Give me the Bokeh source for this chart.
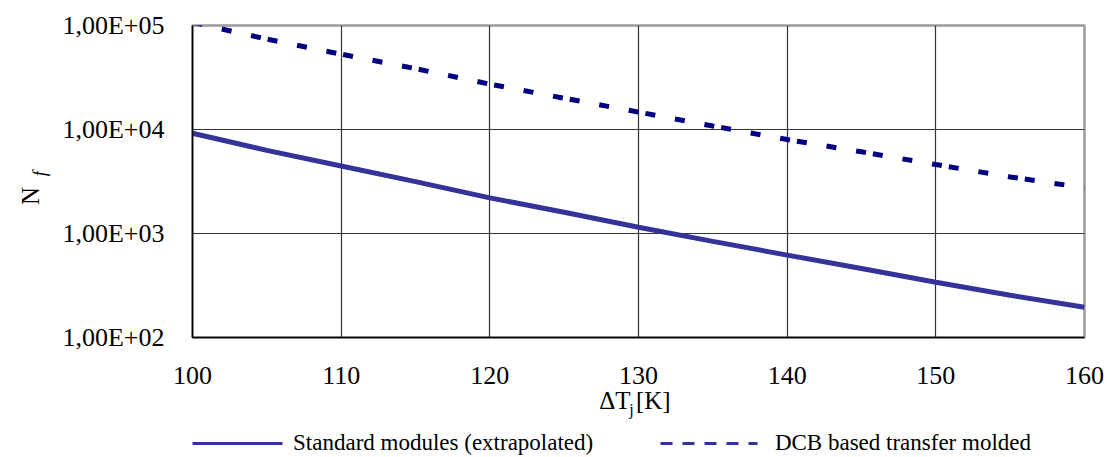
import math

from bokeh.embed import file_html
from bokeh.models import FixedTicker, LinearAxis, LinearScale, Range1d
from bokeh.plotting import figure
from bokeh.resources import INLINE

# Junction temperature swing [K] and cycles to failure
delta_tj = [100, 105, 110, 115, 120, 125, 130, 135, 140, 145, 150, 155, 160]
nf_standard = [9200, 6300, 4450, 3150, 2200, 1600, 1150, 840, 620, 460, 340, 255, 195]
nf_dcb = [107000, 74000, 53000, 38500, 27300, 20000, 14700, 10800, 8000, 6100, 4600, 3500, 2750]

series_names = ["Standard modules (extrapolated)", "DCB based transfer molded"]

x_ticks = [100, 110, 120, 130, 140, 150, 160]
y_ticks = [100, 1000, 10000, 100000]
y_tick_labels = ["1,00E+02", "1,00E+03", "1,00E+04", "1,00E+05"]

FONT = "Liberation Serif"
FRAME_W, FRAME_H = 904, 317
SOLID_COLOR = "#333399"
DASH_COLOR = "#000080"

p = figure(
    width=1107, height=457,
    x_range=(100, 160), y_range=(100, 100000),
    y_axis_type="log",
    output_backend="svg", toolbar_location=None,
    min_border_left=180, min_border_right=23,
    min_border_top=25, min_border_bottom=115,
)
p.background_fill_color = "white"
p.border_fill_color = "white"
p.outline_line_color = "#9a9a9a"
p.outline_line_width = 2.5

# pixel-unit ranges used to place titles and legend outside the frame
p.extra_x_ranges = {"px_x": Range1d(0, FRAME_W)}
p.extra_y_ranges = {"px_y": Range1d(0, FRAME_H)}
p.extra_x_scales = {"px_x": LinearScale()}
p.extra_y_scales = {"px_y": LinearScale()}

# main axes
p.xaxis.ticker = FixedTicker(ticks=x_ticks)
p.yaxis.ticker = FixedTicker(ticks=y_ticks)
p.yaxis.major_label_overrides = dict(zip(y_ticks, y_tick_labels))
for ax in (p.xaxis[0], p.yaxis[0]):
    ax.axis_line_color = "black"
    ax.axis_line_width = 1.5
    ax.major_tick_line_color = None
    ax.minor_tick_line_color = None
    ax.major_label_text_font = FONT
    ax.major_label_text_font_size = "26px"
    ax.major_label_text_color = "black"
p.xaxis.major_label_standoff = 23
p.yaxis.major_label_standoff = 22


def text_row(range_kw, labels, size, standoff, style="normal", angle=None):
    """A bare axis whose tick labels carry free-standing text."""
    ax = LinearAxis(**range_kw, ticker=FixedTicker(ticks=list(labels)),
                    major_label_overrides=dict(labels))
    ax.axis_line_color = None
    ax.major_tick_line_color = None
    ax.minor_tick_line_color = None
    ax.major_tick_out = 0
    ax.major_tick_in = 0
    ax.major_label_text_font = FONT
    ax.major_label_text_font_size = size
    ax.major_label_text_font_style = style
    ax.major_label_text_color = "black"
    ax.major_label_standoff = standoff
    if angle is not None:
        ax.major_label_orientation = angle
    return ax


def line_row(bounds, color, dash="solid"):
    """A bare axis whose line serves as a legend sample."""
    ax = LinearAxis(x_range_name="px_x", ticker=FixedTicker(ticks=[]), bounds=bounds)
    ax.axis_line_color = color
    ax.axis_line_width = 3
    ax.axis_line_dash = dash
    ax.major_tick_line_color = None
    ax.minor_tick_line_color = None
    ax.major_tick_out = 0
    ax.major_tick_in = 0
    ax.minor_tick_out = 0
    ax.minor_tick_in = 0
    ax.major_label_standoff = 0
    return ax


def spacer_row(gap):
    """Blank band between the x title and the legend."""
    ax = LinearAxis(x_range_name="px_x", ticker=FixedTicker(ticks=[900]),
                    major_label_overrides={900: ""})
    ax.axis_line_color = None
    ax.major_tick_line_color = "white"
    ax.major_tick_line_width = 1
    ax.minor_tick_line_color = None
    ax.major_tick_out = gap
    ax.major_tick_in = 0
    ax.major_label_standoff = 0
    ax.major_label_text_font_size = "1px"
    return ax


# x title: ΔT, subscript j, [K]
p.add_layout(text_row(dict(x_range_name="px_x"), {428: "\u0394T", 467: "[K]"}, "25px", 0), "below")
p.add_layout(text_row(dict(x_range_name="px_x"), {445: "j"}, "16px", -16), "below")

# legend: spacer, sample lines, labels
p.add_layout(spacer_row(23), "below")
p.add_layout(line_row((0, 91), SOLID_COLOR), "below")
p.add_layout(line_row((474, 573), SOLID_COLOR, "12 10"), "below")
p.add_layout(text_row(dict(x_range_name="px_x"), {254: series_names[0], 720: series_names[1]},
                      "23px", -14), "below")

# y title: N with italic subscript f
p.add_layout(text_row(dict(y_range_name="px_y"), {169: "f"}, "18px", 19,
                      "italic", math.pi / 2), "left")
p.add_layout(text_row(dict(y_range_name="px_y"), {153: "N"}, "25px", -13,
                      angle=math.pi / 2), "left")

# grid
p.xgrid.ticker = FixedTicker(ticks=x_ticks)
p.ygrid.ticker = FixedTicker(ticks=y_ticks)
for g in (p.xgrid[0], p.ygrid[0]):
    g.grid_line_color = "#333333"
    g.grid_line_width = 1.2

# curves
p.line(delta_tj, nf_standard, line_color=SOLID_COLOR, line_width=5)
p.line(delta_tj, nf_dcb, line_color=DASH_COLOR, line_width=5,
       line_dash="10 20 10 20 10 7")

open("out.html", "w").write(file_html(p, INLINE))
